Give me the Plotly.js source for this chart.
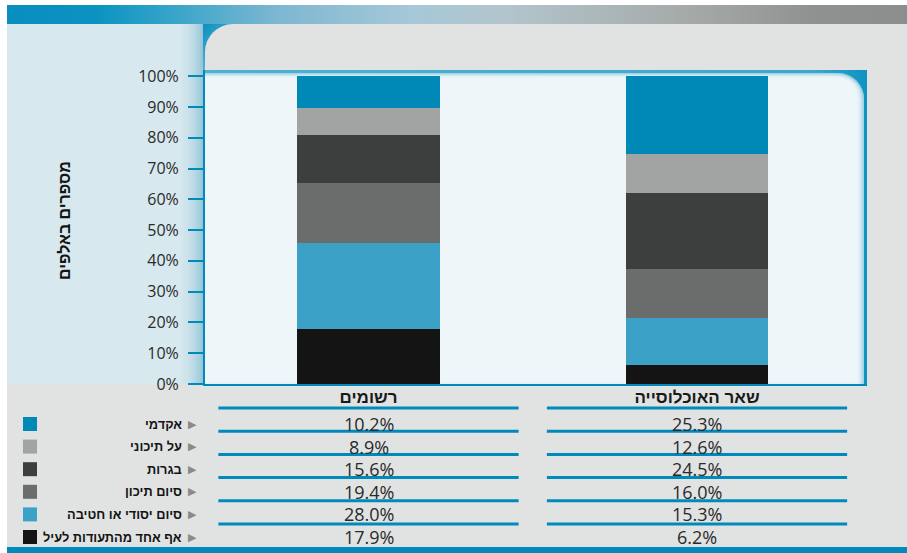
<!DOCTYPE html>
<html><head><meta charset="utf-8">
<script src="https://cdn.plot.ly/plotly-3.0.1.min.js"></script>
<style>
html,body{margin:0;padding:0;background:#fff;}
#wrap{position:relative;width:907px;height:553px;overflow:hidden;background:#fff;}
.bg{position:absolute;}
#topbar{left:7px;top:5px;width:900px;height:19px;background:linear-gradient(to right,#0a8dbf 0%,#0b93c1 10%,#2fa2c8 17%,#7db7d1 30%,#a6c8d8 45%,#b2c5cd 55%,#a6abaa 75%,#8f9190 90%,#8c8e8d 100%);}
#grey{left:7px;top:24px;width:900px;height:523px;background:#e1e3e3;}
#leftpanel{left:7px;top:24px;width:198px;height:360px;background:linear-gradient(to right,#d7e9ee 0px,#d7e9ee 172px,#c9e1e9 182px,#a8d0df 192px,#86bdd3 198px);}
#corner{left:203px;top:24px;width:32px;height:46px;background:linear-gradient(135deg,#0a8fbf 0%,#3ea7cd 45%,#9ccbdc 100%);}
#greytop{left:205px;top:24px;width:702px;height:46px;background:#e1e3e3;border-top-left-radius:28px;}
#frame{left:205px;top:70px;width:662px;height:314px;background:linear-gradient(to left,#0d92c0 0%,#3aa8cf 8%,#4db1d4 100%);}
#frameinner{position:absolute;left:0;top:3px;right:3px;bottom:0;background:#eef6f9;border-top-right-radius:26px;box-shadow:inset -5px 0 5px -3px rgba(70,170,205,0.6), inset 0 4px 3px -2px rgba(70,170,205,0.45);}
#bottombar{left:7px;top:547px;width:900px;height:6px;background:#0089bb;}
#chart{position:absolute;left:0;top:0;width:907px;height:553px;}
</style>
</head>
<body>
<div id="wrap">
  <div class="bg" id="topbar"></div>
  <div class="bg" id="grey"></div>
  <div class="bg" id="leftpanel"></div>
  <div class="bg" id="corner"></div>
  <div class="bg" id="greytop"></div>
  <div class="bg" id="frame"><div id="frameinner"></div></div>
  <div class="bg" id="bottombar"></div>
  <div id="chart"></div>
</div>
<script>
// ---- data ----
const categories = ['רשומים', 'שאר האוכלוסייה'];
const levels = ['אף אחד מהתעודות לעיל', 'סיום יסודי או חטיבה', 'סיום תיכון', 'בגרות', 'על תיכוני', 'אקדמי'];
const registered = [17.9, 28.0, 19.4, 15.6, 8.9, 10.2];
const restOfPopulation = [6.2, 15.3, 16.0, 24.5, 12.6, 25.3];
const levelColors = ['#141414', '#3ba1c6', '#6b6c6c', '#3d3e3e', '#a2a3a3', '#0088b7'];
const yTitle = 'מספרים באלפים';
const series = [registered, restOfPopulation];

// ---- geometry ----
const W = 907, H = 553, L = 205, R = 40, T = 70, B = 169;
const pw = W - L - R, ph = H - T - B;
const px2x = p => (p - L) / pw;
const py2y = p => (H - B - p) / ph;

const HEB = "'Liberation Sans', 'DejaVu Sans', sans-serif";
const NUM = "'Open Sans', 'Liberation Sans', sans-serif";

const traces = levels.map((lvl, i) => ({
  type: 'bar',
  x: categories,
  y: series.map(s => s[i]),
  name: lvl,
  width: 0.435,
  marker: {color: levelColors[i], line: {width: 0}},
  hoverinfo: 'none'
}));

const annotations = [];
const shapes = [];

annotations.push({
  text: '<b>' + yTitle + '</b>', xref: 'paper', yref: 'paper',
  x: px2x(64), y: py2y(221), xanchor: 'center', yanchor: 'middle',
  textangle: -90, showarrow: false,
  font: {family: HEB, size: 16, color: '#141414'}
});

const n = levels.length;
for (let r = 0; r < n; r++) {
  const i = n - 1 - r;
  const cy = 424 + r * 22.6;
  annotations.push({
    text: '<b>' + levels[i] + '</b>', xref: 'paper', yref: 'paper',
    x: px2x(184), y: py2y(cy), xanchor: 'right', yanchor: 'middle',
    showarrow: false, font: {family: HEB, size: 12.8, color: '#141414'}
  });
  annotations.push({
    text: '▶', xref: 'paper', yref: 'paper',
    x: px2x(192), y: py2y(cy), xanchor: 'center', yanchor: 'middle',
    showarrow: false, font: {family: "'DejaVu Sans', sans-serif", size: 11, color: '#8a8a8a'}
  });
  shapes.push({
    type: 'rect', xref: 'paper', yref: 'paper',
    x0: px2x(23), x1: px2x(37), y0: py2y(cy + 7), y1: py2y(cy - 7),
    fillcolor: levelColors[i], line: {width: 0}
  });
  for (let c = 0; c < categories.length; c++) {
    annotations.push({
      text: series[c][i].toFixed(1) + '%', xref: 'x', yref: 'paper',
      x: c, y: py2y(cy), xanchor: 'center', yanchor: 'middle',
      showarrow: false, font: {family: NUM, size: 18, color: '#2a2a2a'}
    });
  }
}
for (let c = 0; c < categories.length; c++) {
  for (let k = 0; k < n; k++) {
    const ly = 408 + k * 23.2;
    shapes.push({
      type: 'line', xref: 'x', yref: 'paper',
      x0: c - 0.457, x1: c + 0.457, y0: py2y(ly), y1: py2y(ly),
      line: {color: '#0089bb', width: 3}
    });
  }
}

const layout = {
  width: W, height: H,
  margin: {l: L, r: R, t: T, b: B, pad: 0},
  paper_bgcolor: 'rgba(0,0,0,0)',
  plot_bgcolor: 'rgba(0,0,0,0)',
  barmode: 'stack',
  showlegend: false,
  xaxis: {
    type: 'category', range: [-0.4977, 1.5175],
    showline: true, linecolor: '#0089bb', linewidth: 2,
    ticks: '', showgrid: false, zeroline: false,
    ticklabelstandoff: -3,
    tickfont: {family: HEB, size: 17, color: '#1a1a1a', weight: 'bold'}
  },
  yaxis: {
    range: [0, 102], tick0: 0, dtick: 10, ticksuffix: '%',
    showline: true, linecolor: '#0089bb', linewidth: 2,
    ticks: 'outside', ticklen: 15, tickwidth: 2, tickcolor: '#0089bb',
    ticklabelstandoff: 6,
    showgrid: false, zeroline: false,
    tickfont: {family: NUM, size: 16, color: '#2a2a2a'}
  },
  annotations: annotations,
  shapes: shapes
};

Plotly.newPlot('chart', traces, layout, {displayModeBar: false, staticPlot: true});
</script>
</body></html>
